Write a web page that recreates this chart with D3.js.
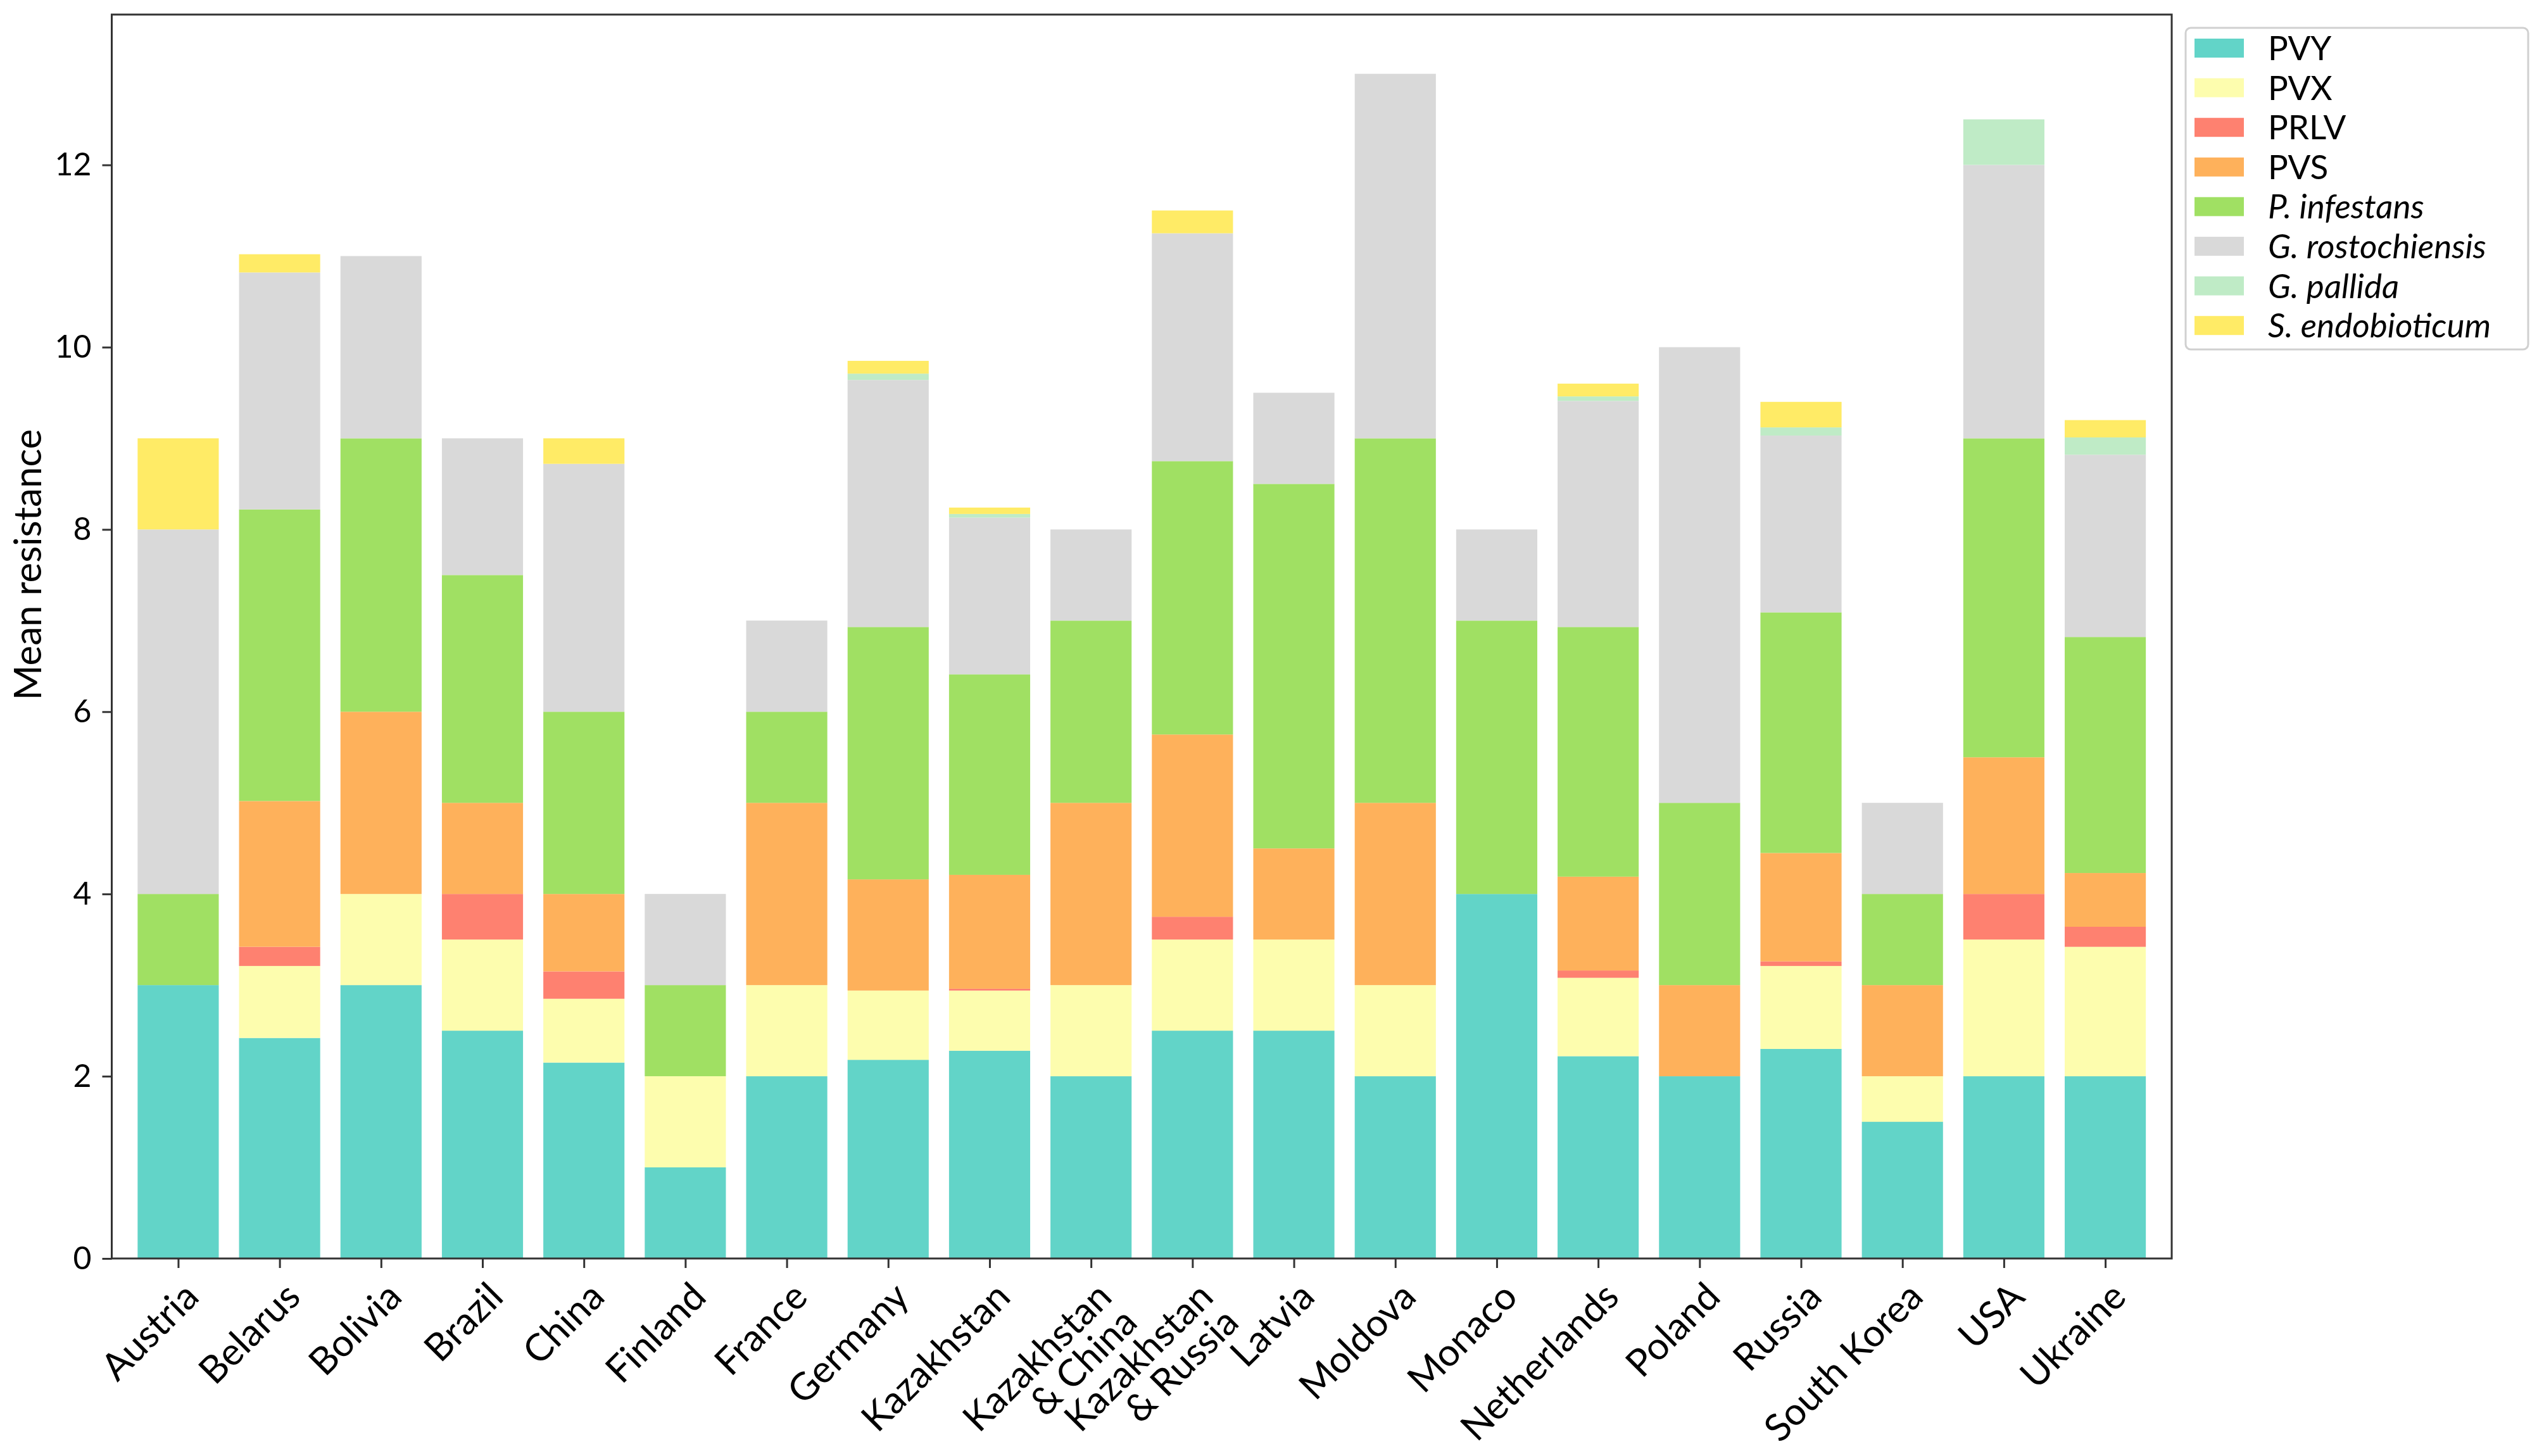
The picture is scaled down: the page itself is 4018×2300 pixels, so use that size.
<!DOCTYPE html>
<html>
<head>
<meta charset="utf-8">
<script src="https://cdn.jsdelivr.net/npm/d3@7"></script>
<style>
  html, body { margin: 0; padding: 0; background: #ffffff; }
  svg { display: block; }
  text { font-family: Lato, "Open Sans", "Noto Sans", sans-serif; fill: #000; }
</style>
</head>
<body>
<svg id="chart" width="4018" height="2300"></svg>
<script>
// ---------------- data ----------------
const countries = ["Austria", "Belarus", "Bolivia", "Brazil", "China", "Finland", "France", "Germany",
  "Kazakhstan", "Kazakhstan\n& China", "Kazakhstan\n& Russia", "Latvia", "Moldova", "Monaco",
  "Netherlands", "Poland", "Russia", "South Korea", "USA", "Ukraine"];

const seriesNames = ["PVY", "PVX", "PRLV", "PVS", "P. infestans", "G. rostochiensis", "G. pallida", "S. endobioticum"];
const italicSeries = ["P. infestans", "G. rostochiensis", "G. pallida", "S. endobioticum"];
const seriesColors = ["#62d4c8", "#fdfdae", "#fe8170", "#feb15b", "#a0e063", "#d9d9d9", "#bfebc6", "#ffeb66"];

const PVY   = [3, 2.42, 3, 2.5, 2.15, 1, 2, 2.18, 2.28, 2, 2.5, 2.5, 2, 4, 2.22, 2, 2.3, 1.5, 2, 2];
const PVX   = [0, 0.79, 1, 1, 0.7, 1, 1, 0.76, 0.66, 1, 1, 1, 1, 0, 0.86, 0, 0.91, 0.5, 1.5, 1.42];
const PRLV  = [0, 0.21, 0, 0.5, 0.3, 0, 0, 0, 0.02, 0, 0.25, 0, 0, 0, 0.08, 0, 0.05, 0, 0.5, 0.22];
const PVS   = [0, 1.6, 2, 1, 0.85, 0, 2, 1.22, 1.25, 2, 2, 1, 2, 0, 1.03, 1, 1.19, 1, 1.5, 0.59];
const PINF  = [1, 3.2, 3, 2.5, 2, 1, 1, 2.77, 2.2, 2, 3, 4, 4, 3, 2.74, 2, 2.64, 1, 3.5, 2.59];
const GROST = [4, 2.6, 2, 1.5, 2.72, 1, 1, 2.71, 1.72, 1, 2.5, 1, 4, 1, 2.48, 5, 1.94, 1, 3, 2.0];
const GPAL  = [0, 0, 0, 0, 0, 0, 0, 0.07, 0.04, 0, 0, 0, 0, 0, 0.05, 0, 0.09, 0, 0.5, 0.19];
const SENDO = [1, 0.2, 0, 0, 0.28, 0, 0, 0.14, 0.07, 0, 0.25, 0, 0, 0, 0.14, 0, 0.28, 0, 0, 0.19];

const yTicks = [0, 2, 4, 6, 8, 10, 12];
const yLabel = "Mean resistance";

// ---------------- build ----------------
const seriesValues = [PVY, PVX, PRLV, PVS, PINF, GROST, GPAL, SENDO];
const rows = countries.map((c, i) => {
  const r = { idx: i, name: c };
  seriesNames.forEach((s, k) => { r[s] = seriesValues[k][i]; });
  return r;
});
const stacked = d3.stack().keys(seriesNames)(rows);

const svg = d3.select("#chart");
const plot = { left: 176.5, right: 3430, top: 23, bottom: 1988 };

const x = d3.scaleLinear().domain([-0.655, 19.655]).range([plot.left, plot.right]);
const y = d3.scaleLinear().domain([0, 13.65]).range([plot.bottom, plot.top]);
const color = d3.scaleOrdinal().domain(seriesNames).range(seriesColors);
const barW = 0.8;

// bars
const g = svg.append("g");
g.selectAll("g.series").data(stacked).join("g")
  .attr("class", "series")
  .attr("fill", d => color(d.key))
  .selectAll("rect").data(d => d).join("rect")
  .attr("x", d => x(d.data.idx - barW / 2))
  .attr("width", d => x(d.data.idx + barW / 2) - x(d.data.idx - barW / 2))
  .attr("y", d => y(d[1]))
  .attr("height", d => Math.max(0, y(d[0]) - y(d[1])));

// y axis
const yAxis = svg.append("g")
  .attr("transform", `translate(${plot.left},0)`)
  .call(d3.axisLeft(y).tickValues(yTicks).tickSize(15).tickPadding(17).tickFormat(d3.format("d")));
yAxis.select(".domain").remove();
yAxis.selectAll(".tick line").attr("stroke", "#333").attr("stroke-width", 3);
yAxis.selectAll(".tick text").style("font-size", "50px").attr("fill", "#000");

// x axis ticks
const xAxis = svg.append("g")
  .attr("transform", `translate(0,${plot.bottom})`)
  .call(d3.axisBottom(x).tickValues(d3.range(countries.length)).tickSize(15).tickFormat(""));
xAxis.select(".domain").remove();
xAxis.selectAll(".tick line").attr("stroke", "#333").attr("stroke-width", 3);

// x labels (rotated, right aligned)
const xl = svg.append("g");
countries.forEach((c, i) => {
  const lines = c.split("\n");
  const t = xl.append("text")
    .attr("transform", `translate(${x(i) + 36},${plot.bottom + 64}) rotate(-45)`)
    .attr("text-anchor", "end")
    .style("font-size", "60px");
  lines.forEach((ln, k) => {
    t.append("tspan").attr("x", 0).attr("dy", k === 0 ? 0 : "0.95em").text(ln);
  });
});

// frame
svg.append("rect")
  .attr("x", plot.left).attr("y", plot.top)
  .attr("width", plot.right - plot.left).attr("height", plot.bottom - plot.top)
  .attr("fill", "none").attr("stroke", "#333").attr("stroke-width", 3);

// y label
svg.append("text")
  .attr("transform", `translate(65,892) rotate(-90)`)
  .attr("text-anchor", "middle")
  .style("font-size", "60px")
  .text(yLabel);

// legend
const leg = svg.append("g");
leg.append("rect")
  .attr("x", 3452).attr("y", 44).attr("width", 541).attr("height", 508)
  .attr("rx", 8).attr("ry", 8)
  .attr("fill", "#fff").attr("stroke", "#d0d0d0").attr("stroke-width", 3);
const legRow = d3.scaleLinear().domain([0, seriesNames.length - 1]).range([76, 76 + 62.6 * 7]);
seriesNames.forEach((s, k) => {
  leg.append("rect")
    .attr("x", 3466).attr("y", legRow(k) - 15)
    .attr("width", 78).attr("height", 30)
    .attr("fill", color(s));
  leg.append("text")
    .attr("x", 3582).attr("y", legRow(k) + 19)
    .style("font-size", "53px")
    .style("font-style", italicSeries.includes(s) ? "italic" : "normal")
    .text(s);
});
</script>
</body>
</html>
